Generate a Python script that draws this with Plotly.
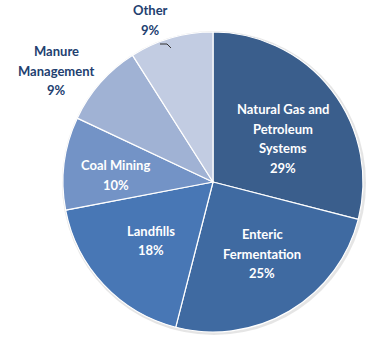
import math
import plotly.graph_objects as go

# Methane emission sources, share of total (%)
sources = ["Natural Gas and<br>Petroleum<br>Systems", "Enteric<br>Fermentation", "Landfills",
           "Coal Mining", "Manure<br>Management", "Other"]
shares = [29, 25, 18, 10, 9, 9]
colors = ["#3A5E8C", "#3F6AA1", "#4877B5", "#7393C6", "#A0B2D4", "#C2CCE2"]

W, H = 383, 349
CX, CY, R = 213, 182, 150  # pie centre / radius in pixels
LINE_H = 19.5               # label line spacing in pixels

fig = go.Figure(go.Pie(
    labels=sources,
    values=shares,
    sort=False,
    direction="clockwise",
    rotation=0,
    marker=dict(colors=colors, line=dict(color="white", width=1.2)),
    textinfo="none",
    hoverinfo="label+percent",
    domain=dict(x=[(CX - R) / W, (CX + R) / W], y=[1 - (CY + R) / H, 1 - (CY - R) / H]),
    showlegend=False,
))

# label placement: radial distance as fraction of radius, angular nudge, inside/outside
label_r = [0.55, 0.58, 0.57, 0.65, 1.28, 1.16]
label_dang = [6, -4, 0, -3, -6, -5]
inside = [True, True, True, True, False, False]

total = sum(shares)
cum = 0
annotations = []
for name, v, rf, da, ins in zip(sources, shares, label_r, label_dang, inside):
    mid = (cum + v / 2) / total * 360 + da
    cum += v
    px = CX + rf * R * math.sin(math.radians(mid))
    py = CY - rf * R * math.cos(math.radians(mid))
    lines = name.split("<br>") + [f"{v}%"]
    n = len(lines)
    for i, line in enumerate(lines):
        ly = py + (i - (n - 1) / 2) * LINE_H
        annotations.append(dict(
            x=px / W, y=1 - ly / H, xref="paper", yref="paper",
            text=f"<b>{line}</b>", showarrow=False,
            font=dict(family="Lato, Open Sans, sans-serif", size=13,
                      color="white" if ins else "#22406F"),
            xanchor="center", yanchor="middle",
        ))

# short leader line for the "Other" label
lead = [(160, 44), (167, 44), (171, 48)]
path = "M " + " L ".join(f"{x / W},{1 - y / H}" for x, y in lead)

fig.update_layout(
    width=W, height=H,
    margin=dict(l=0, r=0, t=0, b=0),
    paper_bgcolor="white",
    plot_bgcolor="white",
    annotations=annotations,
    shapes=[
        dict(type="circle", xref="paper", yref="paper", layer="below",
             x0=(CX - R - 1) / W, x1=(CX + R + 3) / W,
             y0=1 - (CY + R + 3) / H, y1=1 - (CY - R - 1) / H,
             fillcolor="#DADADA", line=dict(width=0), opacity=0.7),
        dict(type="path", xref="paper", yref="paper", path=path,
             line=dict(color="#333333", width=1)),
    ],
)

fig.write_html("out.html")
